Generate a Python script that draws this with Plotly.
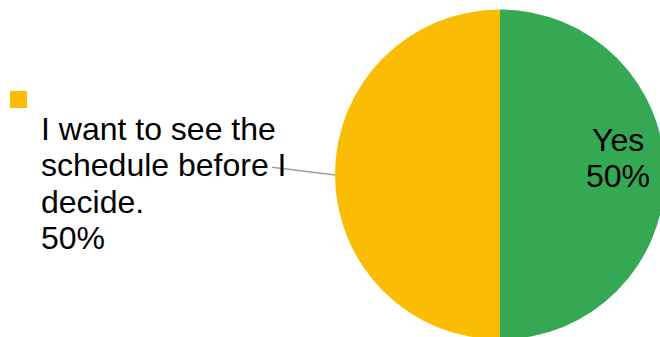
import plotly.graph_objects as go

# Survey answers and their counts
labels = ["Yes", "I want to see the schedule before I decide."]
values = [1, 1]
colors = ["#34A853", "#FBBC04"]
# wrapped lines for the outside label of the second answer
label_lines = ["I want to see the", "schedule before I", "decide."]

W, H = 670, 349  # canvas is slightly larger than the viewport; the pie runs off the right/bottom edge
FONT = "Liberation Sans, Arial, sans-serif"
FS = 32


def px(x):
    return x / W


def py(y):
    return 1 - y / H


# pie geometry in pixels
cx, cy, r = 500, 174.5, 165

total = sum(values)
pct = [f"{round(100 * v / total)}%" for v in values]

fig = go.Figure(
    go.Pie(
        labels=labels,
        values=values,
        sort=False,
        direction="clockwise",
        rotation=0,
        marker=dict(colors=colors, line=dict(width=0)),
        textinfo="none",
        hoverinfo="label+percent",
        showlegend=False,
        domain=dict(x=[px(cx - r), px(cx + r)], y=[py(cy + r), py(cy - r)]),
    )
)

annotations = []
# inside label of the first slice
annotations.append(dict(x=px(618), y=py(140), text=labels[0], xanchor="center", yanchor="middle"))
annotations.append(dict(x=px(618), y=py(176), text=pct[0], xanchor="center", yanchor="middle"))
# outside label of the second slice
left_lines = label_lines + [pct[1]]
for i, line in enumerate(left_lines):
    annotations.append(dict(x=px(39), y=py(129 + 36.3 * i), text=line, xanchor="left", yanchor="middle"))

for a in annotations:
    a.update(xref="paper", yref="paper", showarrow=False, font=dict(family=FONT, size=FS, color="#000000"))

shapes = [
    # leader line from the label to the slice edge
    dict(type="line", xref="paper", yref="paper",
         x0=px(272), y0=py(167.3), x1=px(cx - r), y1=py(175),
         line=dict(color="#9E9E9E", width=1.5)),
    # colour key for the label
    dict(type="rect", xref="paper", yref="paper",
         x0=px(10), y0=py(108), x1=px(27), y1=py(91),
         fillcolor=colors[1], line=dict(width=0)),
]

fig.update_layout(
    width=W,
    height=H,
    margin=dict(l=0, r=0, t=0, b=0),
    paper_bgcolor="#FFFFFF",
    plot_bgcolor="#FFFFFF",
    annotations=annotations,
    shapes=shapes,
)

fig.write_html(
    "out.html",
    config={"displayModeBar": False},
    post_script="document.documentElement.style.overflow='hidden';document.body.style.overflow='hidden';document.body.style.margin='0';",
)
